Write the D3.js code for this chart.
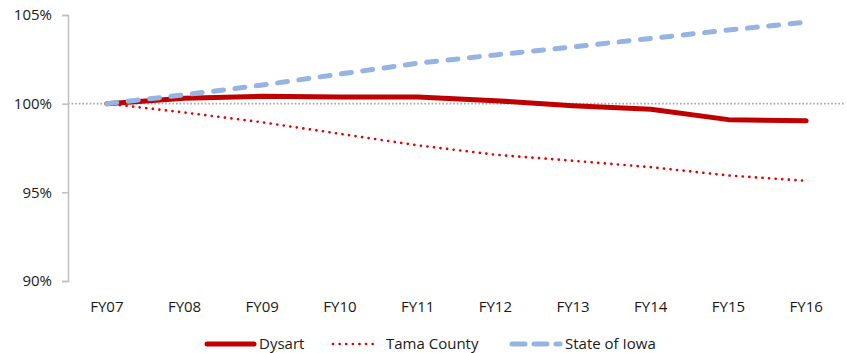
<!DOCTYPE html>
<html>
<head>
<meta charset="utf-8">
<script src="https://cdn.jsdelivr.net/npm/d3@7"></script>
<style>
  html, body { margin: 0; padding: 0; background: #fff; }
  svg text { font-family: "Open Sans", Lato, sans-serif; fill: #1a1a1a; }
</style>
</head>
<body>
<svg id="chart" width="847" height="353"></svg>
<script>
// Fiscal years on the x axis
const years = ["FY07", "FY08", "FY09", "FY10", "FY11", "FY12", "FY13", "FY14", "FY15", "FY16"];

// Index values (FY07 = 100%)
const dysart     = [100.0, 100.3, 100.42, 100.38, 100.37, 100.17, 99.88, 99.68, 99.1, 99.03];
const tamaCounty = [100.0, 99.5, 98.95, 98.3, 97.65, 97.12, 96.78, 96.42, 95.95, 95.65];
const stateIowa  = [100.0, 100.5, 101.05, 101.67, 102.28, 102.75, 103.2, 103.68, 104.15, 104.6];

const yTicks = [90, 95, 100, 105];

const series = [
  { name: "Dysart", values: dysart, color: "#C00000", width: 5, dash: null, cap: "round" },
  { name: "Tama County", values: tamaCounty, color: "#E00000", width: 2.6, dash: "0.1 6.5", cap: "round" },
  { name: "State of Iowa", values: stateIowa, color: "#95B3E3", width: 5, dash: "10 11.5", cap: "round" }
];

const svg = d3.select("#chart");
const margin = { left: 68, right: 2, top: 15, bottom: 72 };
const W = 847, H = 353;

const x = d3.scaleBand().domain(years).range([margin.left, W - margin.right]);
const y = d3.scaleLinear().domain([90, 105]).range([H - margin.bottom, margin.top]);
const cx = d => x(d) + x.bandwidth() / 2;

// Reference line at 100%
svg.append("line")
  .attr("x1", margin.left).attr("x2", W - margin.right)
  .attr("y1", y(100)).attr("y2", y(100))
  .attr("stroke", "#a6a6a6").attr("stroke-width", 1.6)
  .attr("stroke-dasharray", "1.6 2");

// Y axis
const yAxis = svg.append("g")
  .attr("transform", `translate(${margin.left},0)`)
  .call(d3.axisLeft(y).tickValues(yTicks).tickSize(6).tickPadding(10).tickFormat(d => d + "%"));
yAxis.select(".domain").attr("stroke", "#bfbfbf").attr("stroke-width", 1.5);
yAxis.selectAll(".tick line").attr("stroke", "#bfbfbf").attr("stroke-width", 1.5);
yAxis.selectAll(".tick text").attr("font-size", 15).attr("fill", "#1a1a1a");

// X axis labels
const xAxis = svg.append("g")
  .attr("transform", `translate(0,${y(90)})`)
  .call(d3.axisBottom(x).tickSize(0).tickPadding(20));
xAxis.select(".domain").remove();
xAxis.selectAll(".tick text").attr("font-size", 15).attr("fill", "#1a1a1a");

// Series lines
const line = d3.line()
  .x((d, i) => cx(years[i]))
  .y(d => y(d));

series.forEach(s => {
  svg.append("path")
    .datum(s.values)
    .attr("d", line)
    .attr("fill", "none")
    .attr("stroke", s.color)
    .attr("stroke-width", s.width)
    .attr("stroke-linecap", s.cap)
    .attr("stroke-linejoin", "round")
    .attr("stroke-dasharray", s.dash);
});

// Legend
const legend = [
  { s: series[0], x1: 207, x2: 254, tx: 259 },
  { s: series[1], x1: 333, x2: 376, tx: 386 },
  { s: series[2], x1: 512, x2: 560, tx: 565 }
];
const ly = 344;
legend.forEach(l => {
  svg.append("line")
    .attr("x1", l.x1).attr("x2", l.x2).attr("y1", ly).attr("y2", ly)
    .attr("stroke", l.s.color)
    .attr("stroke-width", l.s.width)
    .attr("stroke-linecap", l.s.cap)
    .attr("stroke-dasharray", l.s.name === "State of Iowa" ? "13 9" : l.s.dash);
  svg.append("text")
    .attr("x", l.tx).attr("y", ly).attr("dy", "0.35em")
    .attr("font-size", 15)
    .text(l.s.name);
});
</script>
</body>
</html>
